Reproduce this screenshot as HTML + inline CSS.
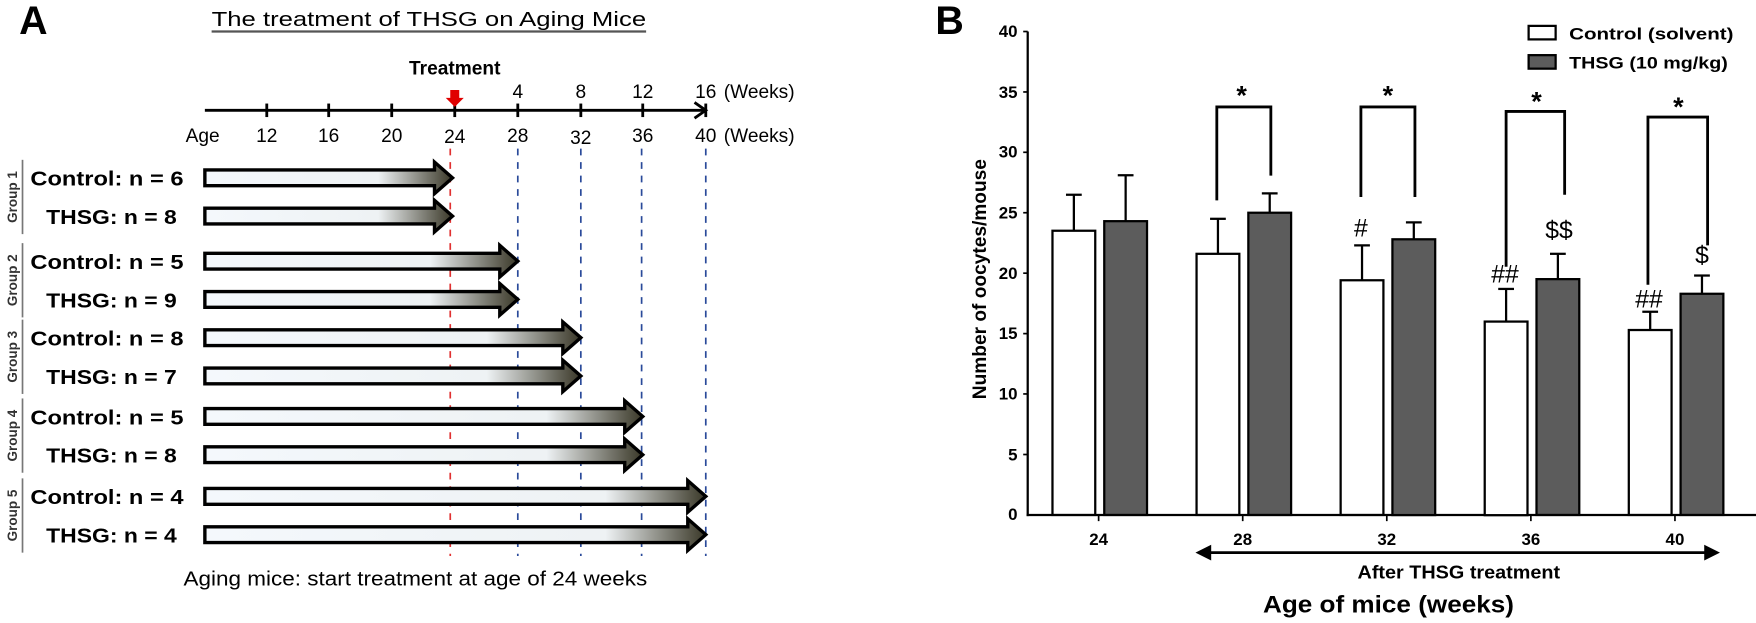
<!DOCTYPE html>
<html><head><meta charset="utf-8"><style>
html,body{margin:0;padding:0;background:#fff}
svg{display:block}
text{font-family:"Liberation Sans",sans-serif}
</style></head><body>
<svg width="1756" height="623" viewBox="0 0 1560 553.5" preserveAspectRatio="none" xmlns="http://www.w3.org/2000/svg">
<defs>
<linearGradient id="g1" x1="182" x2="402" y1="0" y2="0" gradientUnits="userSpaceOnUse"><stop offset="0" stop-color="#f4f8fc"/><stop offset="0.7" stop-color="#eef2f4"/><stop offset="1" stop-color="#3a3828"/></linearGradient>
<linearGradient id="g2" x1="182" x2="460" y1="0" y2="0" gradientUnits="userSpaceOnUse"><stop offset="0" stop-color="#f4f8fc"/><stop offset="0.72" stop-color="#eef2f4"/><stop offset="1" stop-color="#3a3828"/></linearGradient>
<linearGradient id="g3" x1="182" x2="516" y1="0" y2="0" gradientUnits="userSpaceOnUse"><stop offset="0" stop-color="#f4f8fc"/><stop offset="0.75" stop-color="#eef2f4"/><stop offset="1" stop-color="#3a3828"/></linearGradient>
<linearGradient id="g4" x1="182" x2="571" y1="0" y2="0" gradientUnits="userSpaceOnUse"><stop offset="0" stop-color="#f4f8fc"/><stop offset="0.78" stop-color="#eef2f4"/><stop offset="1" stop-color="#3a3828"/></linearGradient>
<linearGradient id="g5" x1="182" x2="627" y1="0" y2="0" gradientUnits="userSpaceOnUse"><stop offset="0" stop-color="#f4f8fc"/><stop offset="0.8" stop-color="#eef2f4"/><stop offset="1" stop-color="#3a3828"/></linearGradient>
</defs>

<!-- Panel A -->
<text x="17" y="30" font-size="35" font-weight="bold">A</text>
<text x="188" y="23" font-size="18" textLength="386" lengthAdjust="spacingAndGlyphs">The treatment of THSG on Aging Mice</text>
<line x1="188" y1="28" x2="574" y2="28" stroke="#555" stroke-width="2"/>

<line x1="182" y1="98" x2="627" y2="98" stroke="#000" stroke-width="2.5"/>
<polyline points="617,91 627,98 617,105" fill="none" stroke="#000" stroke-width="2.5"/>
<g stroke="#000" stroke-width="2.5">
<line x1="237" y1="92" x2="237" y2="104"/><line x1="292" y1="92" x2="292" y2="104"/><line x1="348" y1="92" x2="348" y2="104"/><line x1="404" y1="92" x2="404" y2="104"/><line x1="460" y1="92" x2="460" y2="104"/><line x1="516" y1="92" x2="516" y2="104"/><line x1="571" y1="92" x2="571" y2="104"/><line x1="627" y1="92" x2="627" y2="104"/>
</g>
<polygon points="400,80 408,80 408,87 412,87 404,95 396,87 400,87" fill="#e00000"/>
<text x="404" y="66" font-size="17" font-weight="bold" text-anchor="middle">Treatment</text>
<g font-size="17" text-anchor="middle">
<text x="460" y="87">4</text><text x="516" y="87">8</text><text x="571" y="87">12</text><text x="627" y="87">16</text>
<text x="237" y="126">12</text><text x="292" y="126">16</text><text x="348" y="126">20</text><text x="404" y="127">24</text><text x="460" y="126">28</text><text x="516" y="128">32</text><text x="571" y="126">36</text><text x="627" y="126">40</text>
</g>
<text x="180" y="126" font-size="17" text-anchor="middle">Age</text>
<text x="643" y="87" font-size="17">(Weeks)</text>
<text x="643" y="126" font-size="17">(Weeks)</text>

<g stroke-width="1.5" stroke-dasharray="6,6">
<line x1="400" y1="132" x2="400" y2="494" stroke="#e03030"/>
<line x1="460" y1="132" x2="460" y2="494" stroke="#2a4a9a"/>
<line x1="516" y1="132" x2="516" y2="494" stroke="#2a4a9a"/>
<line x1="570" y1="132" x2="570" y2="494" stroke="#2a4a9a"/>
<line x1="627" y1="132" x2="627" y2="494" stroke="#2a4a9a"/>
</g>

<g stroke="#000" stroke-width="3" stroke-linejoin="miter">
<polygon fill="url(#g1)" points="182,151 386,151 386,144 402,158 386,172 386,165 182,165"/>
<polygon fill="url(#g1)" points="182,185 386,185 386,178 402,192 386,206 386,199 182,199"/>
<polygon fill="url(#g2)" points="182,225 444,225 444,218 460,232 444,246 444,239 182,239"/>
<polygon fill="url(#g2)" points="182,259 444,259 444,252 460,266 444,280 444,273 182,273"/>
<polygon fill="url(#g3)" points="182,293 500,293 500,286 516,300 500,314 500,307 182,307"/>
<polygon fill="url(#g3)" points="182,327 500,327 500,320 516,334 500,348 500,341 182,341"/>
<polygon fill="url(#g4)" points="182,363 555,363 555,356 571,370 555,384 555,377 182,377"/>
<polygon fill="url(#g4)" points="182,397 555,397 555,390 571,404 555,418 555,411 182,411"/>
<polygon fill="url(#g5)" points="182,434 611,434 611,427 627,441 611,455 611,448 182,448"/>
<polygon fill="url(#g5)" points="182,468 611,468 611,461 627,475 611,489 611,482 182,482"/>
</g>

<g font-size="18" font-weight="bold">
<text x="27" y="165" textLength="136" lengthAdjust="spacingAndGlyphs">Control: n = 6</text><text x="41" y="199" textLength="116" lengthAdjust="spacingAndGlyphs">THSG: n = 8</text>
<text x="27" y="239" textLength="136" lengthAdjust="spacingAndGlyphs">Control: n = 5</text><text x="41" y="273" textLength="116" lengthAdjust="spacingAndGlyphs">THSG: n = 9</text>
<text x="27" y="307" textLength="136" lengthAdjust="spacingAndGlyphs">Control: n = 8</text><text x="41" y="341" textLength="116" lengthAdjust="spacingAndGlyphs">THSG: n = 7</text>
<text x="27" y="377" textLength="136" lengthAdjust="spacingAndGlyphs">Control: n = 5</text><text x="41" y="411" textLength="116" lengthAdjust="spacingAndGlyphs">THSG: n = 8</text>
<text x="27" y="448" textLength="136" lengthAdjust="spacingAndGlyphs">Control: n = 4</text><text x="41" y="482" textLength="116" lengthAdjust="spacingAndGlyphs">THSG: n = 4</text>
</g>
<g font-size="12" font-weight="bold" text-anchor="middle" fill="#333">
<text transform="translate(15,175) rotate(-90)">Group 1</text>
<text transform="translate(15,249) rotate(-90)">Group 2</text>
<text transform="translate(15,317) rotate(-90)">Group 3</text>
<text transform="translate(15,387) rotate(-90)">Group 4</text>
<text transform="translate(15,458) rotate(-90)">Group 5</text>
</g>
<g stroke="#777" stroke-width="1.5">
<line x1="20" y1="142" x2="20" y2="208"/><line x1="20" y1="216" x2="20" y2="282"/><line x1="20" y1="284" x2="20" y2="350"/><line x1="20" y1="354" x2="20" y2="420"/><line x1="20" y1="425" x2="20" y2="491"/>
</g>
<text x="163" y="520" font-size="18" textLength="412" lengthAdjust="spacingAndGlyphs">Aging mice: start treatment at age of 24 weeks</text>

<!-- Panel B -->
<text x="831" y="30" font-size="35" font-weight="bold">B</text>
<line x1="913" y1="28" x2="913" y2="458.5" stroke="#000" stroke-width="2"/>
<line x1="912" y1="457.5" x2="1560" y2="457.5" stroke="#000" stroke-width="2"/>
<g stroke="#000" stroke-width="1.5">
<line x1="909" y1="28" x2="913" y2="28"/><line x1="909" y1="81.7" x2="913" y2="81.7"/><line x1="909" y1="135.3" x2="913" y2="135.3"/><line x1="909" y1="189" x2="913" y2="189"/><line x1="909" y1="242.7" x2="913" y2="242.7"/><line x1="909" y1="296.4" x2="913" y2="296.4"/><line x1="909" y1="350" x2="913" y2="350"/><line x1="909" y1="403.8" x2="913" y2="403.8"/>
<line x1="976" y1="457.5" x2="976" y2="463"/><line x1="1104" y1="457.5" x2="1104" y2="463"/><line x1="1232" y1="457.5" x2="1232" y2="463"/><line x1="1360" y1="457.5" x2="1360" y2="463"/><line x1="1488" y1="457.5" x2="1488" y2="463"/>
</g>
<g font-size="15" font-weight="bold" text-anchor="end">
<text x="904" y="33">40</text><text x="904" y="87">35</text><text x="904" y="140">30</text><text x="904" y="194">25</text><text x="904" y="248">20</text><text x="904" y="301">15</text><text x="904" y="355">10</text><text x="904" y="409">5</text><text x="904" y="462">0</text>
</g>
<text transform="translate(876,248) rotate(-90)" font-size="17" font-weight="bold" text-anchor="middle">Number of oocytes/mouse</text>

<g stroke="#000" stroke-width="2">
<line x1="954" y1="205" x2="954" y2="173"/><line x1="947" y1="173" x2="961" y2="173"/>
<line x1="1000" y1="196.5" x2="1000" y2="155.7"/><line x1="993" y1="155.7" x2="1007" y2="155.7"/>
<line x1="1082" y1="225.5" x2="1082" y2="194.4"/><line x1="1075" y1="194.4" x2="1089" y2="194.4"/>
<line x1="1128" y1="189" x2="1128" y2="171.8"/><line x1="1121" y1="171.8" x2="1135" y2="171.8"/>
<line x1="1210" y1="249" x2="1210" y2="218"/><line x1="1203" y1="218" x2="1217" y2="218"/>
<line x1="1256" y1="212.6" x2="1256" y2="197.6"/><line x1="1249" y1="197.6" x2="1263" y2="197.6"/>
<line x1="1338" y1="285.7" x2="1338" y2="256.7"/><line x1="1331" y1="256.7" x2="1345" y2="256.7"/>
<line x1="1384" y1="248" x2="1384" y2="225.5"/><line x1="1377" y1="225.5" x2="1391" y2="225.5"/>
<line x1="1466" y1="293.2" x2="1466" y2="277"/><line x1="1459" y1="277" x2="1473" y2="277"/>
<line x1="1512" y1="261" x2="1512" y2="244.8"/><line x1="1505" y1="244.8" x2="1519" y2="244.8"/>
</g>
<g stroke="#000" stroke-width="2">
<rect x="935" y="205" width="38" height="252.5" fill="#fff"/>
<rect x="981" y="196.5" width="38" height="261" fill="#5c5c5c"/>
<rect x="1063" y="225.5" width="38" height="232" fill="#fff"/>
<rect x="1109" y="189" width="38" height="268.5" fill="#5c5c5c"/>
<rect x="1191" y="249" width="38" height="208.5" fill="#fff"/>
<rect x="1237" y="212.6" width="38" height="245" fill="#5c5c5c"/>
<rect x="1319" y="285.7" width="38" height="172" fill="#fff"/>
<rect x="1365" y="248" width="38" height="209.5" fill="#5c5c5c"/>
<rect x="1447" y="293.2" width="38" height="164.3" fill="#fff"/>
<rect x="1493" y="261" width="38" height="196.5" fill="#5c5c5c"/>
</g>
<g fill="none" stroke="#000" stroke-width="2.5">
<polyline points="1081,178 1081,95 1129,95 1129,156"/>
<polyline points="1209,175 1209,95 1257,95 1257,175"/>
<polyline points="1338,237 1338,99 1390,99 1390,173"/>
<polyline points="1464,253 1464,104 1517,104 1517,218"/>
</g>
<g font-size="24" font-weight="bold" text-anchor="middle">
<text x="1103" y="93">*</text><text x="1233" y="93">*</text><text x="1365" y="98">*</text><text x="1491" y="103">*</text>
</g>
<g font-size="22" text-anchor="middle">
<text x="1209" y="210" font-family="Liberation Serif">#</text>
<text x="1337" y="251" font-family="Liberation Serif">##</text>
<text x="1385" y="212" font-family="Liberation Serif">$$</text>
<text x="1465" y="273" font-family="Liberation Serif">##</text>
<text x="1512" y="234" font-family="Liberation Serif">$</text>
</g>
<rect x="1358" y="23" width="24" height="12" fill="#fff" stroke="#000" stroke-width="2"/>
<rect x="1358" y="49" width="24" height="12" fill="#5c5c5c" stroke="#000" stroke-width="2"/>
<text x="1394" y="35" font-size="15" font-weight="bold" textLength="146" lengthAdjust="spacingAndGlyphs">Control (solvent)</text>
<text x="1394" y="61" font-size="15" font-weight="bold" textLength="141" lengthAdjust="spacingAndGlyphs">THSG (10 mg/kg)</text>
<g font-size="15" font-weight="bold" text-anchor="middle">
<text x="976" y="484">24</text><text x="1104" y="484">28</text><text x="1232" y="484">32</text><text x="1360" y="484">36</text><text x="1488" y="484">40</text>
</g>
<line x1="1072" y1="491" x2="1518" y2="491" stroke="#000" stroke-width="2.5"/>
<polygon points="1062,491 1076,484 1076,498" fill="#000"/>
<polygon points="1528,491 1514,484 1514,498" fill="#000"/>
<text x="1206" y="514" font-size="16" font-weight="bold" textLength="180" lengthAdjust="spacingAndGlyphs">After THSG treatment</text>
<text x="1122" y="544" font-size="21" font-weight="bold" textLength="223" lengthAdjust="spacingAndGlyphs">Age of mice (weeks)</text>
</svg>
</body></html>
